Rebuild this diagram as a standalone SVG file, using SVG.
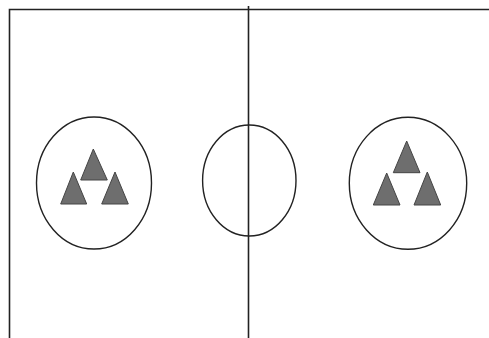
<svg xmlns="http://www.w3.org/2000/svg" width="489" height="338" viewBox="0 0 489 338">
<style>
.ln{stroke:#222;stroke-width:1.6;fill:none}
.el{stroke:#222;stroke-width:1.4;fill:none}
.tri{fill:#6e6e6e;stroke:#444;stroke-width:1}
</style>
<rect width="489" height="338" fill="#fff"/>
<g id="frame">
<path class="ln" d="M9.5,338 V9.5 H489"/>
<line class="ln" x1="248.5" y1="6" x2="248.5" y2="338"/>
</g>
<g id="left">
<ellipse class="el" cx="94" cy="183" rx="57.5" ry="66"/>
<polygon class="tri" points="93.3,149 107.3,180 80.7,180"/>
<polygon class="tri" points="73.3,172 86.7,204 60.7,204"/>
<polygon class="tri" points="115,172 128.3,204 101.7,204"/>
</g>
<g id="center">
<ellipse class="el" cx="249.3" cy="180.5" rx="46.7" ry="55.5"/>
</g>
<g id="right">
<ellipse class="el" cx="408" cy="183.3" rx="58.7" ry="66"/>
<polygon class="tri" points="406.7,141 420,172.7 393.3,172.7"/>
<polygon class="tri" points="386.7,173 400,205 373.3,205"/>
<polygon class="tri" points="427.3,172 440.7,205 414,205"/>
</g>
</svg>
